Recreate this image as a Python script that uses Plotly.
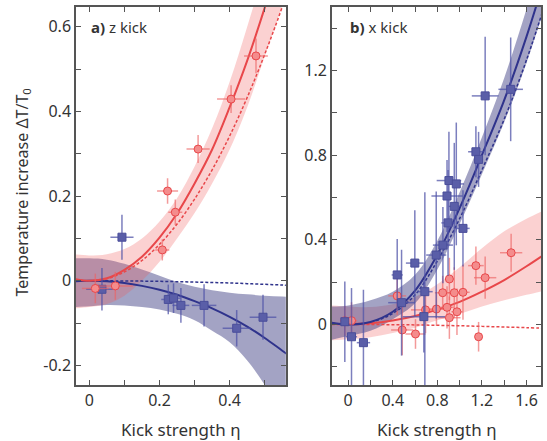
import plotly.graph_objects as go

# ---------------- Panel a) z kick ----------------
a_red_x = [0.017, 0.074, 0.208, 0.223, 0.245, 0.310, 0.404, 0.475]
a_red_y = [-0.018, -0.012, 0.073, 0.212, 0.162, 0.311, 0.429, 0.531]
a_red_ex = [0.038, 0.05, 0.02, 0.03, 0.02, 0.033, 0.04, 0.034]
a_red_ey = [0.035, 0.033, 0.025, 0.03, 0.03, 0.033, 0.033, 0.041]

a_blue_x = [0.036, 0.093, 0.225, 0.240, 0.261, 0.327, 0.420, 0.495]
a_blue_y = [-0.020, 0.103, -0.044, -0.041, -0.058, -0.058, -0.112, -0.086]
a_blue_ex = [0.045, 0.033, 0.02, 0.02, 0.024, 0.035, 0.04, 0.038]
a_blue_ey = [0.05, 0.053, 0.035, 0.035, 0.041, 0.05, 0.043, 0.053]

a_fit_x = [-0.04, 0.0, 0.05, 0.1, 0.15, 0.2, 0.25, 0.3, 0.35, 0.4, 0.45, 0.5, 0.55, 0.6]
a_red_fit = [0.004, 0.0, 0.006, 0.026, 0.057, 0.102, 0.159, 0.23, 0.31, 0.41, 0.52, 0.645, 0.78, 0.93]
a_red_dash = [0.003, 0.0, 0.005, 0.021, 0.048, 0.086, 0.134, 0.193, 0.262, 0.342, 0.433, 0.535, 0.647, 0.77]
a_red_up = [0.062, 0.06, 0.063, 0.075, 0.1, 0.14, 0.195, 0.27, 0.36, 0.47, 0.6, 0.74, 0.9, 1.07]
a_red_lo = [-0.065, -0.062, -0.055, -0.035, 0.0, 0.045, 0.1, 0.16, 0.23, 0.31, 0.41, 0.53, 0.65, 0.79]
a_blue_fit = [-0.001, 0.0, -0.001, -0.005, -0.012, -0.021, -0.033, -0.048, -0.065, -0.085, -0.108, -0.135, -0.165, -0.195]
a_blue_dash = [0.0, 0.0, -0.0001, -0.0003, -0.0007, -0.0013, -0.002, -0.003, -0.004, -0.005, -0.0067, -0.0083, -0.01, -0.012]
a_blue_up = [0.053, 0.053, 0.05, 0.04, 0.027, 0.012, -0.003, -0.014, -0.022, -0.028, -0.032, -0.035, -0.037, -0.04]
a_blue_lo = [-0.062, -0.06, -0.057, -0.058, -0.062, -0.068, -0.078, -0.093, -0.118, -0.145, -0.188, -0.246, -0.32, -0.4]

# ---------------- Panel b) x kick ----------------
b_red_x = [-0.03, 0.03, 0.44, 0.485, 0.604, 0.694, 0.792, 0.848, 0.887, 0.908, 0.908, 0.952, 0.976, 1.03, 1.146, 1.17, 1.229, 1.462]
b_red_y = [0.018, 0.018, 0.135, -0.026, -0.045, 0.069, 0.073, 0.15, 0.081, 0.215, 0.032, 0.15, 0.06, 0.152, 0.278, -0.058, 0.221, 0.339]
b_red_ex = [0.04, 0.05, 0.08, 0.1, 0.09, 0.13, 0.12, 0.07, 0.06, 0.04, 0.1, 0.06, 0.05, 0.06, 0.07, 0.03, 0.1, 0.1]
b_red_ey = [0.07, 0.087, 0.09, 0.12, 0.07, 0.11, 0.08, 0.08, 0.1, 0.1, 0.1, 0.12, 0.11, 0.13, 0.09, 0.07, 0.1, 0.09]

b_blue_x = [-0.03, 0.03, 0.137, 0.44, 0.479, 0.598, 0.679, 0.688, 0.79, 0.85, 0.896, 0.952, 1.03, 0.887, 0.904, 0.97, 1.146, 1.17, 1.229, 1.458]
b_blue_y = [0.013, -0.058, -0.086, 0.234, 0.103, 0.29, 0.037, 0.155, 0.328, 0.375, 0.48, 0.558, 0.454, 0.607, 0.68, 0.664, 0.816, 0.78, 1.08, 1.111]
b_blue_ex = [0.03, 0.05, 0.06, 0.05, 0.12, 0.08, 0.19, 0.07, 0.09, 0.09, 0.06, 0.05, 0.06, 0.14, 0.11, 0.07, 0.07, 0.04, 0.12, 0.11]
b_blue_ey = [0.19, 0.23, 0.25, 0.17, 0.25, 0.25, 0.17, 0.47, 0.3, 0.18, 0.25, 0.3, 0.18, 0.17, 0.23, 0.29, 0.12, 0.13, 0.28, 0.245]

b_fit_x = [-0.15, 0.0, 0.2, 0.4, 0.6, 0.8, 1.0, 1.2, 1.4, 1.6, 1.8]
b_blue_fit = [0.008, 0.0, 0.012, 0.06, 0.16, 0.33, 0.55, 0.8, 1.06, 1.36, 1.7]
b_blue_dash = [0.007, 0.0, 0.01, 0.052, 0.14, 0.3, 0.5, 0.73, 0.97, 1.25, 1.57]
b_blue_up = [0.085, 0.09, 0.115, 0.155, 0.235, 0.395, 0.625, 0.885, 1.165, 1.49, 1.85]
b_blue_lo = [-0.073, -0.055, -0.03, 0.025, 0.1, 0.26, 0.475, 0.71, 0.955, 1.235, 1.56]
b_red_fit = [0.004, 0.002, 0.006, 0.019, 0.04, 0.07, 0.107, 0.155, 0.21, 0.275, 0.345]
b_red_dash = [0.0, 0.0, -0.0003, -0.001, -0.002, -0.004, -0.006, -0.009, -0.012, -0.015, -0.019]
b_red_up = [0.09, 0.085, 0.082, 0.095, 0.13, 0.19, 0.27, 0.36, 0.44, 0.5, 0.55]
b_red_lo = [-0.075, -0.07, -0.06, -0.04, -0.015, 0.02, 0.05, 0.085, 0.115, 0.14, 0.165]

# tick labels
a_xticks = [0, 0.1, 0.2, 0.3, 0.4, 0.5]
a_xtext = ["0", " ", "0.2", " ", "0.4", " "]
a_yticks = [-0.2, -0.1, 0, 0.1, 0.2, 0.3, 0.4, 0.5, 0.6]
a_ytext = ["-0.2", " ", "0", " ", "0.2", " ", "0.4", " ", "0.6"]
b_xticks = [0, 0.2, 0.4, 0.6, 0.8, 1.0, 1.2, 1.4, 1.6]
b_xtext = ["0", " ", "0.4", " ", "0.8", " ", "1.2", " ", "1.6"]
b_yticks = [-0.2, 0, 0.2, 0.4, 0.6, 0.8, 1.0, 1.2, 1.4]
b_ytext = [" ", "0", " ", "0.4", " ", "0.8", " ", "1.2", " "]

RED = "#e8474a"
RED_FILL = "#f48c8c"
RED_BAND = "rgba(240,90,90,0.28)"
RED_ERR = "rgba(236,100,100,0.65)"
BLUE = "#2f338c"
BLUE_FILL = "#5a5ea8"
BLUE_BAND = "rgba(50,52,125,0.45)"
BLUE_ERR = "rgba(80,84,168,0.75)"

fig = go.Figure()


def add_band(x, lo, up, color, xa, ya):
    fig.add_trace(go.Scatter(x=x, y=lo, mode="lines", line=dict(width=0, shape="spline"),
                             hoverinfo="skip", showlegend=False, xaxis=xa, yaxis=ya))
    fig.add_trace(go.Scatter(x=x, y=up, mode="lines", line=dict(width=0, shape="spline"),
                             fill="tonexty", fillcolor=color, hoverinfo="skip",
                             showlegend=False, xaxis=xa, yaxis=ya))


def add_line(x, y, color, dash, width, xa, ya):
    fig.add_trace(go.Scatter(x=x, y=y, mode="lines",
                             line=dict(color=color, width=width, dash=dash, shape="spline"),
                             showlegend=False, xaxis=xa, yaxis=ya))


def add_points(x, y, ex, ey, symbol, fill, edge, err, xa, ya):
    fig.add_trace(go.Scatter(
        x=x, y=y, mode="markers",
        marker=dict(symbol=symbol, size=8, color=fill, line=dict(color=edge, width=1)),
        error_x=dict(type="data", array=ex, color=err, thickness=1.5, width=0),
        error_y=dict(type="data", array=ey, color=err, thickness=1.5, width=0),
        showlegend=False, xaxis=xa, yaxis=ya))


# panel a
add_band(a_fit_x, a_blue_lo, a_blue_up, BLUE_BAND, "x", "y")
add_band(a_fit_x, a_red_lo, a_red_up, RED_BAND, "x", "y")
add_line(a_fit_x, a_blue_dash, BLUE, "3px,2px", 1.5, "x", "y")
add_line(a_fit_x, a_red_dash, RED, "3px,2px", 1.5, "x", "y")
add_line(a_fit_x, a_blue_fit, BLUE, "solid", 2, "x", "y")
add_line(a_fit_x, a_red_fit, RED, "solid", 2, "x", "y")
add_points(a_blue_x, a_blue_y, a_blue_ex, a_blue_ey, "square", BLUE_FILL, "#4a4e9a", BLUE_ERR, "x", "y")
add_points(a_red_x, a_red_y, a_red_ex, a_red_ey, "circle", RED_FILL, RED, RED_ERR, "x", "y")

# panel b
add_band(b_fit_x, b_red_lo, b_red_up, RED_BAND, "x2", "y2")
add_band(b_fit_x, b_blue_lo, b_blue_up, BLUE_BAND, "x2", "y2")
add_line(b_fit_x, b_red_dash, RED, "3px,2px", 1.5, "x2", "y2")
add_line(b_fit_x, b_blue_dash, BLUE, "3px,2px", 1.5, "x2", "y2")
add_line(b_fit_x, b_red_fit, RED, "solid", 2, "x2", "y2")
add_line(b_fit_x, b_blue_fit, BLUE, "solid", 2, "x2", "y2")
add_points(b_red_x, b_red_y, b_red_ex, b_red_ey, "circle", RED_FILL, RED, RED_ERR, "x2", "y2")
add_points(b_blue_x, b_blue_y, b_blue_ex, b_blue_ey, "square", BLUE_FILL, "#4a4e9a", BLUE_ERR, "x2", "y2")

FONT = "Noto Sans"
axis_common = dict(showline=True, linecolor="#555555", linewidth=1.5, mirror="allticks",
                   ticks="inside", ticklen=5, tickwidth=1.2, tickcolor="#555555",
                   showgrid=False, zeroline=False,
                   tickfont=dict(family=FONT, size=16, color="#333333"), tickmode="array")

fig.update_layout(
    width=547, height=441,
    margin=dict(l=76, r=4, t=7, b=56),
    paper_bgcolor="white", plot_bgcolor="white",
    font=dict(family=FONT, color="#333333"),
    showlegend=False,
    xaxis=dict(domain=[0, 0.4512], range=[-0.038, 0.56], anchor="y",
               tickvals=a_xticks, ticktext=a_xtext, **axis_common),
    yaxis=dict(domain=[0, 1], range=[-0.246, 0.6465], anchor="x",
               tickvals=a_yticks, ticktext=a_ytext, **axis_common),
    xaxis2=dict(domain=[0.5503, 1], range=[-0.146, 1.73], anchor="y2",
                tickvals=b_xticks, ticktext=b_xtext, **axis_common),
    yaxis2=dict(domain=[0, 1], range=[-0.286, 1.5], anchor="x2",
                tickvals=b_yticks, ticktext=b_ytext, **axis_common),
    annotations=[
        dict(text="<b>a)</b> z kick", x=0.0, y=0.6, xref="x", yref="y",
             xanchor="left", yanchor="middle", showarrow=False,
             font=dict(family=FONT, size=15, color="#333333")),
        dict(text="<b>b)</b> x kick", x=0.0, y=1.405, xref="x2", yref="y2",
             xanchor="left", yanchor="middle", showarrow=False,
             font=dict(family=FONT, size=15, color="#333333")),
        dict(text="Kick strength η", x=0.2256, y=-0.118, xref="paper", yref="paper",
             xanchor="center", yanchor="middle", showarrow=False,
             font=dict(family=FONT, size=17, color="#333333")),
        dict(text="Kick strength η", x=0.775, y=-0.118, xref="paper", yref="paper",
             xanchor="center", yanchor="middle", showarrow=False,
             font=dict(family=FONT, size=17, color="#333333")),
        dict(text="Temperature increase ΔT/T<sub>0</sub>", x=-0.1156, y=0.51,
             xref="paper", yref="paper", textangle=-90,
             xanchor="center", yanchor="middle", showarrow=False,
             font=dict(family=FONT, size=16, color="#333333")),
    ],
)

fig.write_html(
    "out.html",
    config={"displayModeBar": False},
    post_script="document.body.style.margin='0';document.body.style.padding='0';",
)
